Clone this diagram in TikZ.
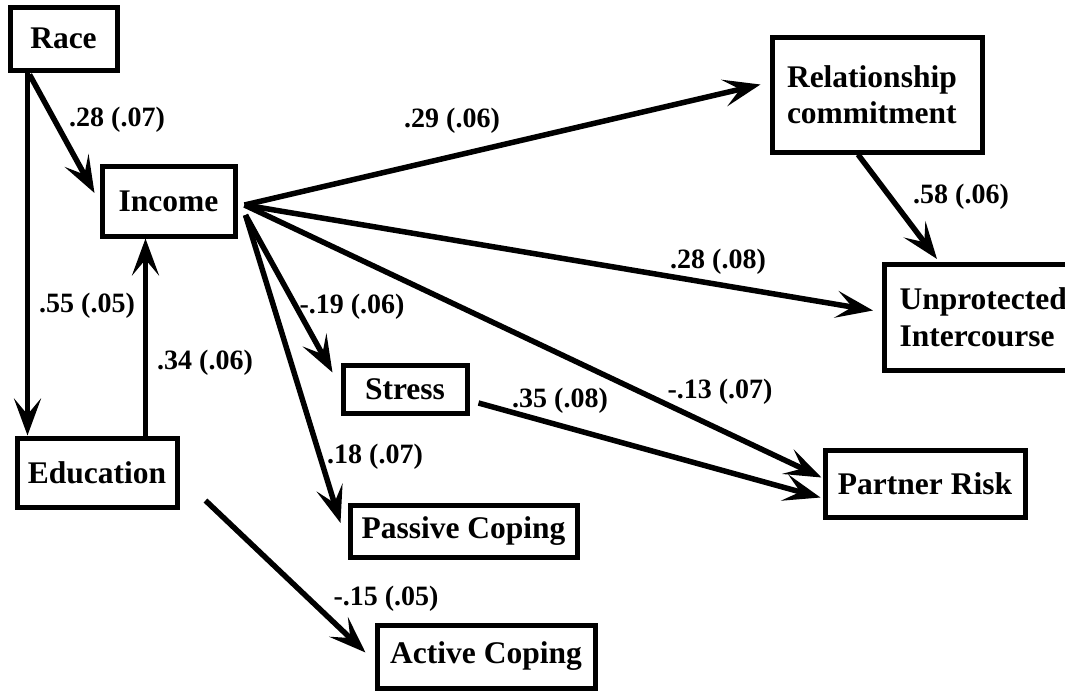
\documentclass[tikz,border=0pt]{standalone}
\usepackage{fontspec}
\setmainfont{Liberation Serif}
\usetikzlibrary{arrows.meta,calc}
\begin{document}
\begin{tikzpicture}[x=1pt,y=-1pt,
  box/.style={draw, line width=5pt, inner sep=0pt, font=\fontsize{31.5}{36}\selectfont\bfseries},
  lab/.style={inner sep=0pt, font=\fontsize{28}{30}\selectfont\bfseries},
  arr/.style={line width=5.5pt, -{Stealth[length=37pt,width=27pt,inset=16pt]}}]
\useasboundingbox (0,0) rectangle (1065,691);
\clip (0,0) rectangle (1065,691);

% boxes
\node[box, minimum width=107pt, minimum height=63pt] (race) at (63.5,38.5) {Race};
\node[box, minimum width=133pt, minimum height=70pt] (inc) at (168.5,201) {Income};
\node[box, minimum width=160pt, minimum height=69pt] (edu) at (97,472.5) {Education};
\node[box, minimum width=210pt, minimum height=115pt, inner xsep=15pt, text width=180pt, align=left] (rel) at (877,94.5) {Relationship\\commitment};
\node[box, minimum width=193pt, minimum height=106pt, inner xsep=15pt, text width=163pt, align=left, anchor=north west,
  font=\fontsize{31.5}{37}\selectfont\bfseries] (unp) at (882,262) {Unprotected\\Intercourse};
\node[box, minimum width=124pt, minimum height=48pt] (stress) at (405,389) {Stress};
\node[box, minimum width=227pt, minimum height=52pt] (pas) at (463.5,531) {Passive Coping};
\node[box, minimum width=218pt, minimum height=63pt] (act) at (486,656.5) {Active Coping};
\node[box, minimum width=200pt, minimum height=67pt] (pr) at (925,483.5) {Partner Risk};

% fan points out of Income
\coordinate (fan) at ($(inc.east)+(7,4)$);
\coordinate (fan2) at ($(inc.east)+(8,14)$);

% connectors
\draw[arr] ($(race.south west)+(22,2)$) -- ($(inc.west)+(-5,-8)$);
\draw[arr] ($(race.south west)+(20,0)$) -- ($(edu.north west)+(13,0)$);
\draw[arr] ($(edu.north west)+(131,0)$) -- ($(inc.south west)+(46,0)$);
\draw[arr] (fan) -- ($(rel.west)+(-9,-10)$);
\draw[arr] (fan) -- ($(unp.west)+(-9,-7)$);
\draw[arr] (fan) -- ($(pr.west)+(-1,-6)$);
\draw[arr] (fan2) -- ($(stress.north west)+(-8,10)$);
\draw[arr] (fan2) -- ($(pas.west)+(-7,-8)$);
\draw[arr] ($(edu.south east)+(26,-9)$) -- ($(act.west)+(-9,-4)$);
\draw[arr] ($(stress.east)+(9,14)$) -- ($(pr.west)+(-2,14)$);
\draw[arr] ($(rel.south)+(-19,0)$) -- ($(unp.north west)+(55,-3)$);

% labels
\node[lab] (l1) at (117,120) {.28 (.07)};
\node[lab] (l2) at (87,306) {.55 (.05)};
\node[lab] (l3) at (205,363) {.34 (.06)};
\node[lab] (l4) at (452,121) {.29 (.06)};
\node[lab] (l5) at (718,262) {.28 (.08)};
\node[lab] (l6) at (961,197) {.58 (.06)};
\node[lab] (l7) at (352,307) {-.19 (.06)};
\node[lab] (l8) at (375,457) {.18 (.07)};
\node[lab] (l9) at (560,401) {.35 (.08)};
\node[lab] (l10) at (720,392) {-.13 (.07)};
\node[lab] (l11) at (386,599) {-.15 (.05)};
\end{tikzpicture}
\end{document}
